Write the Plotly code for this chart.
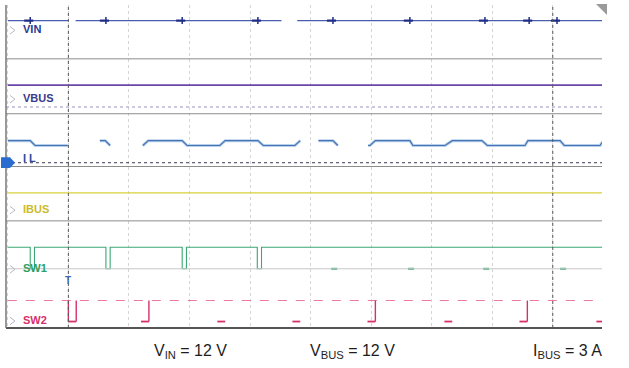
import plotly.graph_objects as go

# ---------------- data (time in screen divisions, level in strip units) ----------------
# channel levels (strip units: 0 = bottom of screen, 6 = top)
vin_level = 5.71
vbus_level = 4.51
ibus_level = 2.51
il_high, il_low = 3.48, 3.39
sw1_high, sw1_low = 1.50, 1.10
sw2_high, sw2_low = 0.51, 0.12

# VIN: visible segments (start, end) and switching blips
vin_segments = [(0.0, 1.0), (1.12, 4.52), (4.78, 9.84)]
vin_blips = [0.37, 1.62, 2.88, 4.13, 5.37, 6.64, 7.88, 8.61, 9.07]

# IL inductor current breakpoints (None = gap in the trace)
il_t = [0.00, 0.37, 0.45, 0.99, None, 1.52, 1.61, 1.69, None, 2.23, 2.32, 2.88, 2.96,
        3.50, 3.59, 4.13, 4.22, 4.74, 4.83, None, 5.13, 5.37, 5.45, None, 5.95, 5.98,
        6.07, 6.64, 6.69, 7.22, 7.34, 7.83, 7.92, 8.54, 8.59, 9.12, 9.19, 9.78, 9.84]
il_v = ["H", "H", "L", "L", None, "H", "H", "L", None, "L", "H", "H", "L",
        "L", "H", "H", "L", "L", "H", None, "H", "H", "L", None, "L", "L",
        "H", "H", "L", "L", "H", "H", "L", "L", "H", "H", "L", "L", "H"]

# SW1 low pulses: start times, width, and whether the edges are drawn
sw1_pulse_t = [0.37, 1.62, 2.88, 4.12, 5.37, 6.64, 7.88, 9.15]
sw1_pulse_w = 0.07
sw1_edges = [True, True, True, True, False, False, False, False]

# SW2 low pulses
sw2_pulse_t = [1.00, 2.20, 3.46, 4.70, 5.94, 7.21, 8.45, 9.72]
sw2_pulse_w = 0.13
sw2_edges = ["both", "rise", "none", "none", "rise", "none", "rise", "none"]

channel_labels = ["VIN", "VBUS", "I L", "IBUS", "SW1", "SW2"]
label_levels = [5.55, 4.27, 3.16, 2.21, 1.11, 0.15]
label_colors = ["#2b3a8e", "#3b3a8a", "#2a4a9a", "#cbbb2c", "#2e9e62", "#d8306a"]

bottom_texts = ["V<sub>IN</sub> = 12 V", "V<sub>BUS</sub> = 12 V", "I<sub>BUS</sub> = 3 A"]

# ---------------- geometry helpers ----------------
XMIN, XMAX = -0.03, 9.813
L_M, R_M, T_M, B_M = 6, 27, 5, 40
W, H = 629, 368
PW = W - L_M - R_M
PH = H - T_M - B_M


def px_to_paper_x(px):
    return (px - L_M) / PW


def px_to_paper_y(py):
    return (H - B_M - py) / PH


fig = go.Figure()

# VIN
vx, vy = [], []
for a, b in vin_segments:
    vx += [a, b, None]
    vy += [vin_level, vin_level, None]
fig.add_trace(go.Scatter(x=vx, y=vy, mode="lines", line=dict(color="#4a5eb0", width=1.1),
                         hoverinfo="skip"))
fig.add_trace(go.Scatter(x=vin_blips, y=[vin_level] * len(vin_blips), mode="markers",
                         marker=dict(symbol="line-ns", size=5,
                                     line=dict(color="#1f2f85", width=1.5)),
                         hoverinfo="skip"))
bx, by = [], []
for t in vin_blips:
    bx += [t - 0.1, t + 0.05, None]
    by += [vin_level, vin_level, None]
fig.add_trace(go.Scatter(x=bx, y=by, mode="lines", line=dict(color="#1f2f85", width=2.2),
                         hoverinfo="skip"))

# VBUS
fig.add_trace(go.Scatter(x=[0, 9.84], y=[vbus_level, vbus_level], mode="lines",
                         line=dict(color="#6b46a6", width=1.8), hoverinfo="skip"))

# IL
il_y = [None if v is None else (il_high if v == "H" else il_low) for v in il_v]
fig.add_trace(go.Scatter(x=il_t, y=il_y, mode="lines", line=dict(color="#b9d0ec", width=3.0),
                         hoverinfo="skip", connectgaps=False))
fig.add_trace(go.Scatter(x=il_t, y=il_y, mode="lines", line=dict(color="#4474b4", width=1.2),
                         hoverinfo="skip", connectgaps=False))

# IBUS
fig.add_trace(go.Scatter(x=[0, 9.84], y=[ibus_level, ibus_level], mode="lines",
                         line=dict(color="#d9d03c", width=1.4), hoverinfo="skip"))

# SW1
s1x, s1y = [0.0], [sw1_high]
lowx, lowy = [], []
for t, e in zip(sw1_pulse_t, sw1_edges):
    if e:
        s1x += [t, t, t + sw1_pulse_w, t + sw1_pulse_w]
        s1y += [sw1_high, sw1_low, sw1_low, sw1_high]
    else:
        lowx += [t - 0.03, t + sw1_pulse_w, None]
        lowy += [sw1_low, sw1_low, None]
s1x.append(9.84)
s1y.append(sw1_high)
fig.add_trace(go.Scatter(x=s1x, y=s1y, mode="lines", line=dict(color="#3aa872", width=1.1),
                         hoverinfo="skip"))
fig.add_trace(go.Scatter(x=lowx, y=lowy, mode="lines", line=dict(color="#3aa872", width=2),
                         hoverinfo="skip"))

# SW2
fig.add_trace(go.Scatter(x=[0, 9.84], y=[sw2_high, sw2_high], mode="lines",
                         line=dict(color="#ec7aa0", width=1.1, dash="dash"),
                         hoverinfo="skip"))
ex, ey, lx2, ly2 = [], [], [], []
for t, e in zip(sw2_pulse_t, sw2_edges):
    t2 = t + sw2_pulse_w
    lx2 += [t, t2, None]
    ly2 += [sw2_low, sw2_low, None]
    if e in ("both",):
        ex += [t, t, None]
        ey += [sw2_high, sw2_low, None]
    if e in ("both", "rise"):
        ex += [t2, t2, None]
        ey += [sw2_low, sw2_high, None]
fig.add_trace(go.Scatter(x=lx2, y=ly2, mode="lines", line=dict(color="#d8306a", width=1.8),
                         hoverinfo="skip"))
fig.add_trace(go.Scatter(x=ex, y=ey, mode="lines", line=dict(color="#d8306a", width=1.4),
                         hoverinfo="skip"))

shapes = []
# strip separators
for yv in [5.0, 3.98, 3.0, 1.99]:
    shapes.append(dict(type="line", xref="paper", yref="y", x0=0, x1=1, y0=yv, y1=yv,
                       line=dict(color="#8c8c8c", width=1)))
# channel ground reference lines
shapes.append(dict(type="line", xref="paper", yref="y", x0=0, x1=1, y0=4.105, y1=4.105,
                   line=dict(color="#9a94c0", width=1, dash="dot")))
shapes.append(dict(type="line", xref="paper", yref="y", x0=0, x1=1, y0=3.07, y1=3.07,
                   line=dict(color="#3a3a50", width=1, dash="dot")))
shapes.append(dict(type="line", xref="paper", yref="y", x0=0, x1=1, y0=sw1_low, y1=sw1_low,
                   line=dict(color="#c8c8c8", width=1)))
# cursor lines
for xv in [1.0, 9.0]:
    shapes.append(dict(type="line", xref="x", yref="paper", x0=xv, x1=xv, y0=0, y1=1,
                       line=dict(color="#555555", width=1, dash="dot")))
# borders
shapes.append(dict(type="line", xref="paper", yref="paper", x0=0, x1=1, y0=0, y1=0,
                   line=dict(color="#555555", width=2)))
shapes.append(dict(type="line", xref="paper", yref="paper", x0=0, x1=0, y0=0, y1=1,
                   line=dict(color="#777777", width=1.5)))
# IL ground marker (blue tab at the left)
x0p, x1p, x2p = px_to_paper_x(1), px_to_paper_x(10), px_to_paper_x(15)
shapes.append(dict(type="path", xref="paper", yref="y",
                   path=f"M {x0p},3.17 L {x1p},3.17 L {x2p},3.07 L {x1p},2.97 L {x0p},2.97 Z",
                   fillcolor="#2a6cd0", line=dict(color="#2a6cd0", width=0)))
# small channel icons in front of the labels
ca, cb = px_to_paper_x(10), px_to_paper_x(15)
for lv, col in zip(label_levels, label_colors):
    if lv == label_levels[2]:
        continue
    shapes.append(dict(type="path", xref="paper", yref="y",
                       path=f"M {ca},{lv + 0.05} L {cb},{lv - 0.02} L {ca},{lv - 0.09}",
                       line=dict(color="#b8b8c8", width=1)))
# top-right corner triangle
tx0, tx1 = px_to_paper_x(596), px_to_paper_x(607)
ty0, ty1 = px_to_paper_y(4), px_to_paper_y(15)
shapes.append(dict(type="path", xref="paper", yref="paper",
                   path=f"M {tx0},{ty0} L {tx1},{ty0} L {tx1},{ty1} Z",
                   fillcolor="#9a9a9a", line=dict(width=0)))

annotations = []
for lab, lv, col in zip(channel_labels, label_levels, label_colors):
    annotations.append(dict(x=0.22, y=lv, xref="x", yref="y", text=lab,
                            showarrow=False, xanchor="left", yanchor="middle",
                            font=dict(family="Liberation Sans, Arial", size=11, color=col,
                                      weight="bold")))
annotations.append(dict(x=1.0, y=0.88, xref="x", yref="y", text="T", showarrow=False,
                        xanchor="center", yanchor="middle",
                        font=dict(family="Liberation Sans, Arial", size=10, color="#3a6ab8",
                                  weight="bold")))
for txt, pxl in zip(bottom_texts, [152, 308, 531]):
    annotations.append(dict(x=px_to_paper_x(pxl), y=px_to_paper_y(351), xref="paper",
                            yref="paper", text=txt, showarrow=False, xanchor="left",
                            yanchor="middle",
                            font=dict(family="Liberation Sans, Arial", size=16,
                                      color="#1e1e1e")))

fig.update_layout(
    width=W, height=H,
    margin=dict(l=L_M, r=R_M, t=T_M, b=B_M),
    paper_bgcolor="white", plot_bgcolor="white",
    showlegend=False,
    shapes=shapes, annotations=annotations,
    xaxis=dict(range=[XMIN, XMAX], dtick=1, tick0=0, showgrid=True, gridcolor="#d4d4d4",
               griddash="dot", gridwidth=1, zeroline=False, showticklabels=False,
               ticks="", showline=False, fixedrange=True),
    yaxis=dict(range=[0, 6], showgrid=False, zeroline=False, showticklabels=False,
               ticks="", showline=False, fixedrange=True),
)

fig.write_html("out.html", config={"displayModeBar": False},
               post_script="document.body.style.margin='0';document.body.style.padding='0';")
